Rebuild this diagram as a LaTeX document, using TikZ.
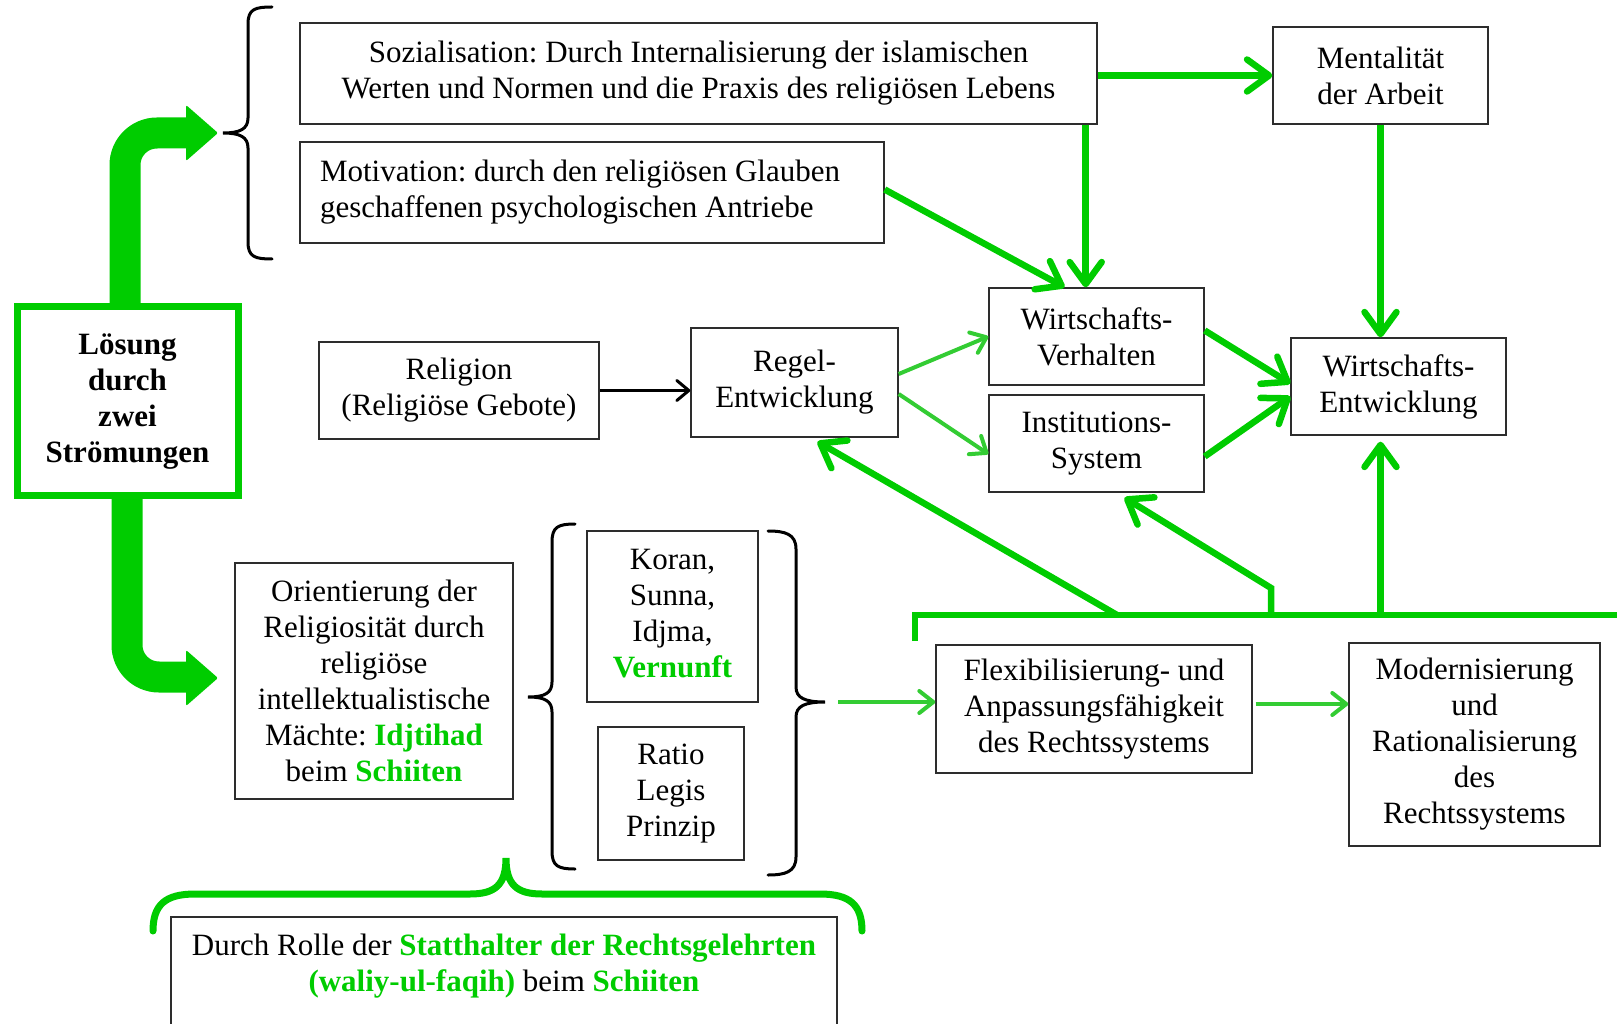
\documentclass[tikz,border=0pt]{standalone}
\usepackage{fontspec}
\setmainfont{Liberation Serif}
\usetikzlibrary{arrows.meta,calc}
\definecolor{G}{RGB}{0,204,0}
\definecolor{LG}{RGB}{51,204,51}
\definecolor{BD}{RGB}{45,45,45}
\newcommand\gbold[1]{\textcolor{G}{\textbf{#1}}}
\begin{document}
\frenchspacing
\begin{tikzpicture}[x=1pt,y=-1pt,
  every node/.style={font=\fontsize{31}{36}\selectfont},
  box/.style={draw=BD, line width=1.4pt, align=center, inner sep=0pt},
  gline/.style={draw=G, line width=6.5pt},
  garrow/.style={gline, -{Straight Barb[length=22pt,width=32pt,round]}},
  larrow/.style={draw=LG, line width=4pt, -{Straight Barb[length=14pt,width=22pt,round]}},
  karrow/.style={draw=black, line width=3pt, -{Straight Barb[length=12pt,width=20pt,round]}},
  curly/.style={draw=black, line width=3pt, line cap=round},
  bigshaft/.style={draw=G, line width=31pt},
]
\useasboundingbox (0,0) rectangle (1617,1024);

% ---- boxes ----
\node[box, minimum width=797pt, minimum height=101pt] (soz) at (698.5,73.5)
  {Sozialisation: Durch Internalisierung der islamischen\\Werten und Normen und die Praxis des religiösen Lebens};
\node[box, minimum width=584pt, minimum height=101pt] (mot) at (592,192.5)
  {\makebox[544pt][l]{\begin{tabular}{@{}l@{}}Motivation: durch den religiösen Glauben\\geschaffenen psychologischen Antriebe\end{tabular}}};
\node[box, minimum width=215pt, minimum height=97pt] (ment) at (1380.5,75.5) {Mentalität\\der Arbeit};
\node[box, minimum width=215pt, minimum height=97pt] (wv) at (1096.5,336.5) {Wirtschafts-\\Verhalten};
\node[box, minimum width=215pt, minimum height=97pt] (is) at (1096.5,443.5) {Institutions-\\System};
\node[box, minimum width=215pt, minimum height=97pt] (we) at (1398.5,386.5) {Wirtschafts-\\Entwicklung};
\node[box, minimum width=207pt, minimum height=109pt] (regel) at (794.5,382.5)
  {\raisebox{4pt}{\begin{tabular}{@{}c@{}}Regel-\\Entwicklung\end{tabular}}};
\node[box, minimum width=280pt, minimum height=97pt] (rel) at (459,390.5) {Religion\\(Religiöse Gebote)};
\node[box, minimum width=278pt, minimum height=236pt] (orient) at (374,681)
  {Orientierung der\\Religiosität durch\\religiöse\\intellektualistische\\Mächte: \gbold{Idjtihad}\\beim \gbold{Schiiten}};
\node[box, minimum width=171pt, minimum height=171pt] (koran) at (672.5,616.5)
  {\raisebox{3pt}{\begin{tabular}{@{}c@{}}Koran,\\Sunna,\\Idjma,\\\gbold{Vernunft}\end{tabular}}};
\node[box, minimum width=146pt, minimum height=133pt] (ratio) at (671,793.5) {Ratio\\Legis\\Prinzip};
\node[box, minimum width=316pt, minimum height=128pt] (flex) at (1094,709)
  {Flexibilisierung- und\\Anpassungsfähigkeit\\des Rechtssystems};
\node[box, minimum width=251pt, minimum height=203pt] (mod) at (1474.5,744.5)
  {Modernisierung\\und\\Rationalisierung\\des\\Rechtssystems};
\node[draw=G, line width=7pt, minimum width=221pt, minimum height=188pt, align=center, inner sep=0pt,
  font=\fontsize{31}{36}\selectfont\bfseries] (loes) at (127.5,401)
  {\raisebox{4pt}{\begin{tabular}{@{}c@{}}Lösung\\durch\\zwei\\Strömungen\end{tabular}}};

% bottom box, open at the lower page edge
\draw[draw=BD, line width=1.4pt] (171,1040) -- (171,917) -- (837,917) -- (837,1040);
\node[align=center] (rolle) at (504,966)
  {Durch Rolle der \gbold{Statthalter der Rechtsgelehrten}\\\gbold{(waliy-ul-faqih)} beim \gbold{Schiiten}};

% ---- big curved arrows from the solution box ----
\draw[bigshaft, rounded corners=32pt] ($(loes.north)+(-2.5,3)$) -- (125,133) -- (190,133);
\fill[G, rounded corners=2pt] (186,105) -- (218,133) -- (186,161) -- cycle;
\draw[bigshaft, rounded corners=32pt] ($(loes.south)+(-0.5,-3)$) -- (127,677) -- (190,677);
\fill[G, rounded corners=2pt] (186,650) -- (218,678) -- (186,706) -- cycle;

% ---- curly brackets ----
\draw[curly] (272,7) .. controls (255,7) and (248,9) .. (248,24) -- (248,118)
  .. controls (248,129) and (240,133) .. (223,133)
  .. controls (240,133) and (248,137) .. (248,148) -- (248,242)
  .. controls (248,257) and (255,259) .. (272,259);
\draw[curly] (575,524) .. controls (558,524) and (552,527) .. (552,542) -- (552,682)
  .. controls (552,693) and (545,697) .. (528,697)
  .. controls (545,697) and (552,701) .. (552,712) -- (552,851)
  .. controls (552,866) and (558,869) .. (575,869);
\draw[curly] (768,531) .. controls (785,531) and (796,534) .. (796,549) -- (796,687)
  .. controls (796,698) and (805,702) .. (825,702)
  .. controls (805,702) and (796,706) .. (796,717) -- (796,857)
  .. controls (796,872) and (785,875) .. (768,875);
\coordinate (rtip) at (825,702);
\draw[draw=G, line width=7pt, line cap=round]
  (153,931) .. controls (153,905) and (165,894) .. (195,894) -- (470,894)
  .. controls (495,894) and (506,885) .. (506,858)
  .. controls (506,885) and (517,894) .. (542,894) -- (820,894)
  .. controls (850,894) and (862,905) .. (862,931);

% ---- connectors ----
\draw[garrow] (soz.east |- ment.west) -- (ment.west);
\draw[garrow] ([xshift=-12pt]soz.south east) -- ([xshift=-12pt]soz.south east |- wv.north);
\draw[garrow] ($(mot.east)+(0,-3)$) -- ($(wv.north)+(-32,0)$);
\draw[garrow] (ment.south) -- (ment.south |- we.north);
\draw[garrow] ($(wv.east)+(0,-6)$) -- ($(we.west)+(0,-3)$);
\draw[garrow] ($(is.east)+(0,13)$) -- ($(we.west)+(0,10)$);
\draw[larrow] ($(regel.east)+(0,-8.5)$) -- (wv.west);
\draw[larrow] ($(regel.east)+(0,11.5)$) -- ($(is.west)+(0,10.5)$);
\draw[karrow] (rel.east) -- (rel.east -| regel.west);
\draw[larrow] ($(rtip)+(13,0)$) -- (rtip -| flex.west);
\coordinate (fm) at ($(flex.east)+(3,-5)$);
\draw[larrow] (fm) -- (fm -| mod.west);

% feedback bus
\coordinate (busL) at (915,641);
\coordinate (busR) at (1617,615);
\draw[gline] (busL) -- (915,615) -- (busR);
\draw[garrow] (1117,615) -- ($(regel.south)+(23,4)$);
\draw[garrow] (1271,615) -- (1271,588) -- ($(is.south)+(28,5)$);
\draw[garrow] (ment.south |- busR) -- ($(ment.south |- we.south)+(0,6)$);
\end{tikzpicture}
\end{document}
